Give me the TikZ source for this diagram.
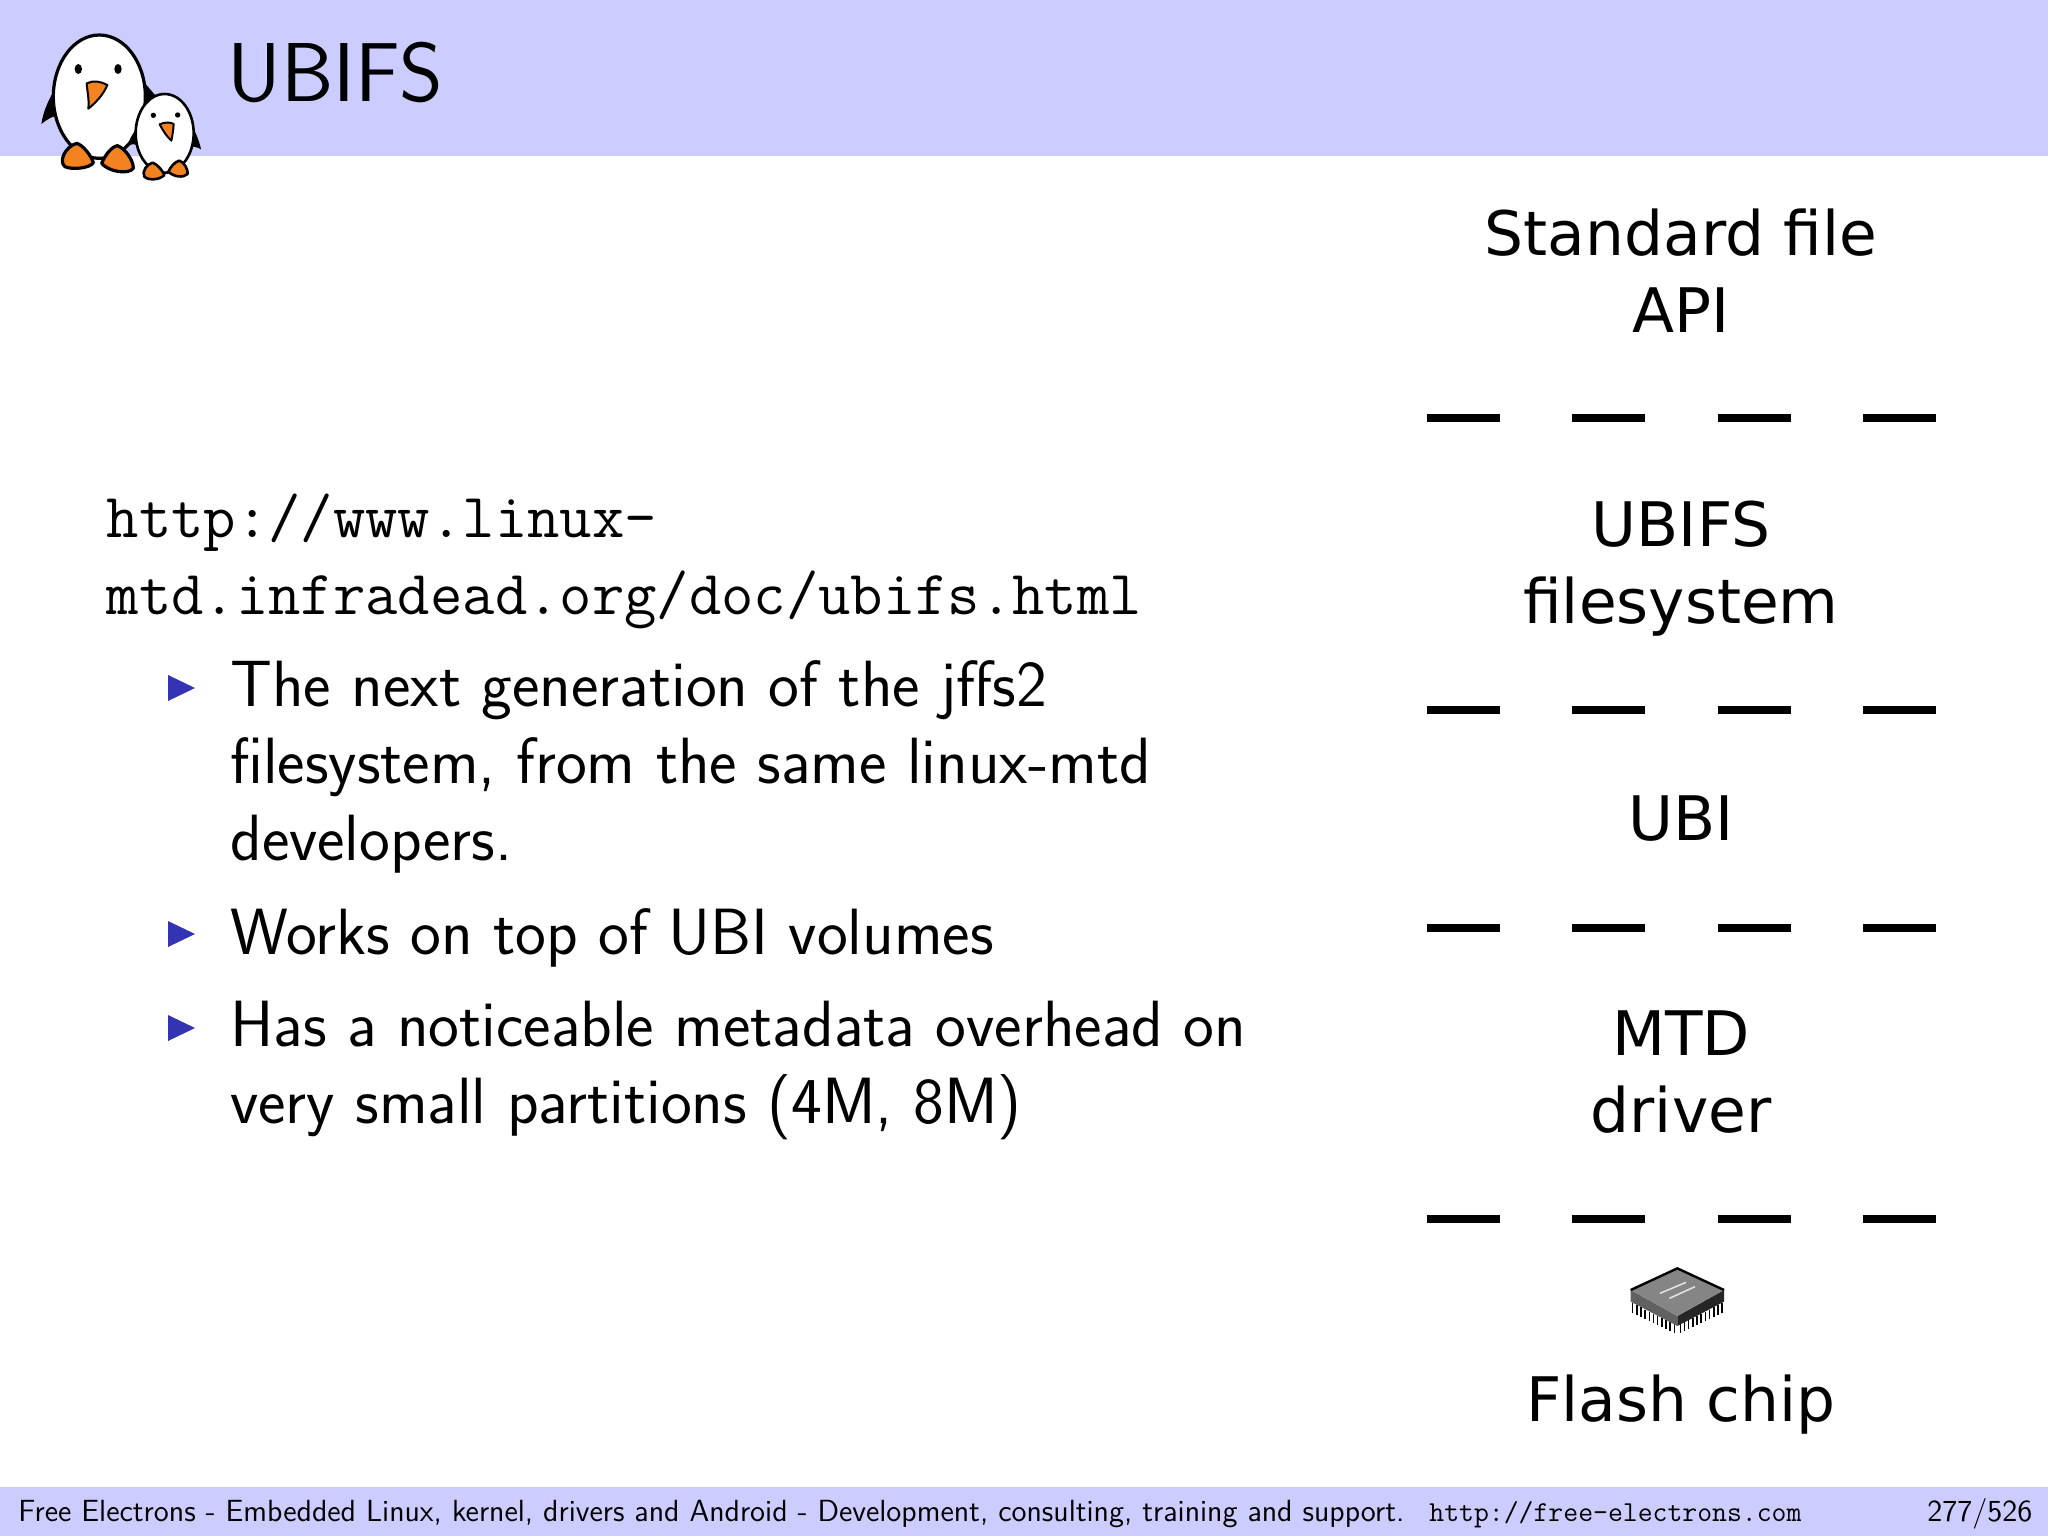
\documentclass[tikz,border=0pt]{standalone}
\usepackage{fontspec}
\newfontfamily\dejavu{DejaVu Sans}
\definecolor{band}{HTML}{CCCCFF}
\definecolor{bullet}{HTML}{3333B3}
\definecolor{beak}{HTML}{F58220}
\tikzset{
  body/.style={font=\sffamily\fontsize{32.7}{38.3}\selectfont,anchor=base west,inner sep=0pt,align=left},
  url/.style={font=\ttfamily\fontsize{31.4}{38.3}\selectfont,anchor=base west,inner sep=0pt,align=left},
  layer/.style={font=\dejavu\fontsize{30.7}{38.5}\selectfont,anchor=base,inner sep=0pt,align=center},
  foot/.style={font=\sffamily\fontsize{15.3}{16}\selectfont,anchor=base west,inner sep=0pt},
  footmono/.style={font=\ttfamily\fontsize{14.45}{16}\selectfont,anchor=base west,inner sep=0pt},
  sep/.style={line width=4pt,dash pattern=on 36.5pt off 36.25pt},
  tri/.style={fill=bullet,draw=none},
  ink/.style={draw=black,line width=1pt,line join=round},
  pin/.style={draw=black,line width=0.8pt}
}
\begin{document}
\begin{tikzpicture}[x=0.5pt,y=-0.5pt]
\useasboundingbox (0,0) rectangle (2048,1536);
\fill[white] (0,0) rectangle (2048,1536);
\fill[band] (0,0) rectangle (2048,156);
\fill[band] (0,1487) rectangle (2048,1536);
% penguins, in 3x zoom coordinates
\begin{scope}[x=0.16667pt,y=-0.16667pt]
 \fill[black] (175,250) .. controls (150,290) and (130,330) .. (124,372) .. controls (145,355) and (165,345) .. (185,345) -- cycle;
 \fill[black] (435,250) -- (465,285) -- (430,320) -- cycle;
 \draw[ink,fill=white,line width=1.6pt] (298,290) ellipse [x radius=138, y radius=185];
 \fill[black] (235,207) ellipse [x radius=11, y radius=15];
 \fill[black] (354,207) ellipse [x radius=11, y radius=15];
 \draw[ink,fill=beak] (260,250) .. controls (280,240) and (305,245) .. (322,255) .. controls (310,285) and (285,310) .. (265,326) .. controls (268,300) and (262,275) .. (260,250) -- cycle;
 \draw[ink,fill=beak,line width=1.6pt] (230,430) .. controls (250,435) and (275,470) .. (280,488) .. controls (270,505) and (215,510) .. (195,500) .. controls (175,485) and (195,440) .. (230,430) -- cycle;
 \draw[ink,fill=beak,line width=1.6pt] (352,437) .. controls (375,445) and (400,480) .. (400,505) .. controls (385,525) and (325,515) .. (305,490) .. controls (315,465) and (335,440) .. (352,437) -- cycle;
 \fill[black] (410,385) .. controls (395,405) and (385,425) .. (382,440) .. controls (395,430) and (405,430) .. (415,440) -- cycle;
 \fill[black] (578,380) .. controls (590,405) and (600,430) .. (603,448) .. controls (590,440) and (580,440) .. (570,440) -- cycle;
 \draw[ink,fill=white,line width=1.3pt] (494,400) ellipse [x radius=87, y radius=118];
 \fill[black] (460,346) circle [radius=8];
 \fill[black] (533,345) circle [radius=8];
 \draw[ink,fill=beak] (479,373) .. controls (495,366) and (510,366) .. (521,372) .. controls (520,390) and (517,408) .. (514,422) .. controls (500,410) and (488,390) .. (479,373) -- cycle;
 \draw[ink,fill=beak,line width=1.3pt] (458,488) .. controls (472,492) and (490,515) .. (493,525) .. controls (480,540) and (445,542) .. (433,530) .. controls (425,515) and (440,492) .. (458,488) -- cycle;
 \draw[ink,fill=beak,line width=1.3pt] (538,482) .. controls (552,485) and (565,510) .. (563,522) .. controls (550,535) and (520,530) .. (505,515) .. controls (512,500) and (525,485) .. (538,482) -- cycle;
\end{scope}
\node[font=\sffamily\fontsize{41.8}{48}\selectfont,anchor=base west,inner sep=0pt] (title) at (227,102) {UBIFS};
\node[url] (link) at (106.5,614) {http://www.linux-\\mtd.infradead.org/doc/ubifs.html};
\fill[tri] (168,675) -- (195,688) -- (168,701) -- cycle;
\fill[tri] (168,921) -- (195,934) -- (168,947) -- cycle;
\fill[tri] (168,1015) -- (195,1028) -- (168,1041) -- cycle;
\node[body] (itema) at (230,860) {The next generation of the jffs2\\filesystem, from the same linux-mtd\\developers.};
\node[body] (itemb) at (230,954) {Works on top of UBI volumes};
\node[body] (itemc) at (230,1123) {Has a noticeable metadata overhead on\\very small partitions (4M, 8M)};
% layers
\node[layer] (api) at (1681,332) {Standard file\\API};
\node[layer] (ubifs) at (1681,623) {UBIFS\\filesystem};
\node[layer] (ubi) at (1681,840) {UBI};
\node[layer] (mtd) at (1681,1132) {MTD\\driver};
\node[layer] (flash) at (1681,1421) {Flash chip};
\coordinate (sl1) at (1426.5,418); \coordinate (sr1) at (1936,418);
\coordinate (sl2) at (1426.5,710); \coordinate (sr2) at (1936,710);
\coordinate (sl3) at (1426.5,927.5); \coordinate (sr3) at (1936,927.5);
\coordinate (sl4) at (1426.5,1219); \coordinate (sr4) at (1936,1219);
\draw[sep] (sl1) -- (sr1);
\draw[sep] (sl2) -- (sr2);
\draw[sep] (sl3) -- (sr3);
\draw[sep] (sl4) -- (sr4);
% chip, in 3x zoom coordinates
\begin{scope}[shift={(1580,1240)},x=0.16667pt,y=-0.16667pt]
 \foreach \i in {0,...,10} {
   \draw[pin] ({158+\i*12.5},{190+\i*6.2}) -- ++(0,28);
   \draw[pin] ({426-\i*12.5},{190+\i*6.2}) -- ++(0,28);
 }
 \fill[black!62] (152,150) -- (292,228) -- (292,258) -- (152,185) -- cycle;
 \fill[black!85] (432,150) -- (292,228) -- (292,258) -- (432,185) -- cycle;
 \fill[black!48] (292,85) -- (432,150) -- (292,228) -- (152,150) -- cycle;
 \draw[black,line width=1.2pt] (152,150) -- (292,85) -- (432,150);
 \draw[black!12,line width=0.8pt] (240,160) -- (318,127);
 \draw[black!12,line width=0.8pt] (268,175) -- (345,140);
\end{scope}
% footer
\node[foot] (footl) at (18,1521) {Free Electrons - Embedded Linux, kernel, drivers and Android - Development, consulting, training and support.};
\node[footmono] (footu) at (1429,1521) {http://free-electrons.com};
\node[foot] (footp) at (1927,1521) {277/526};
\end{tikzpicture}
\end{document}
